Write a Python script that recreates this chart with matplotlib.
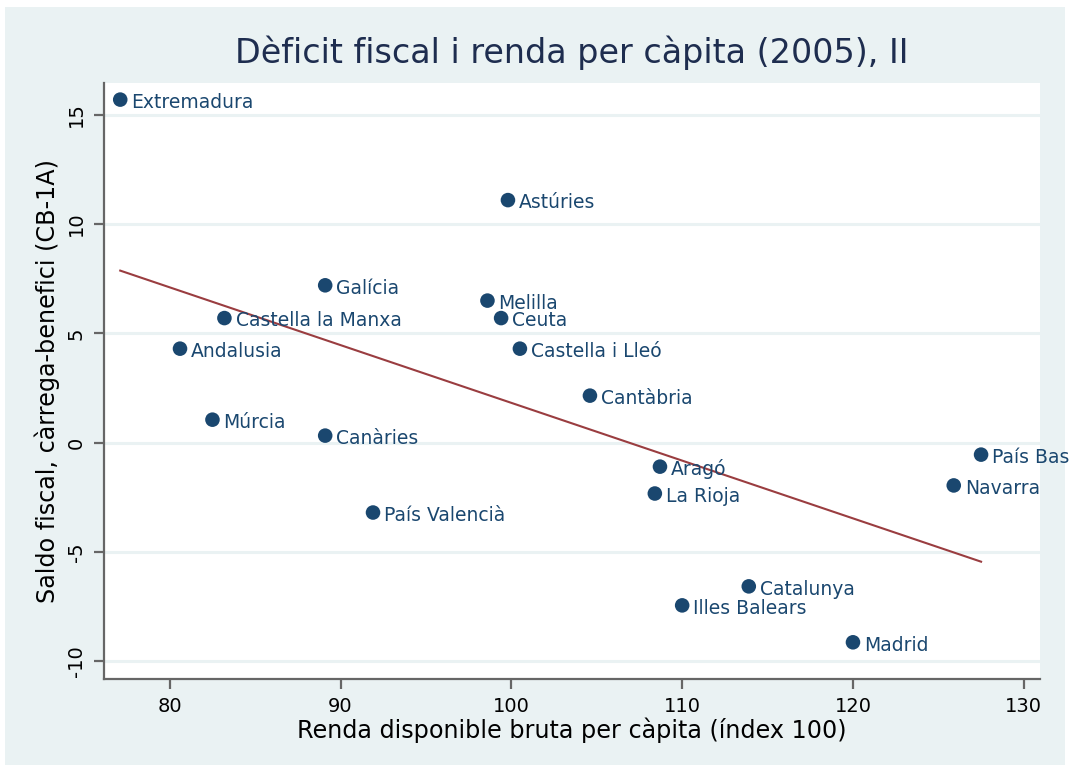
import numpy as np
import matplotlib
matplotlib.use("Agg")
import matplotlib.pyplot as plt
from matplotlib.patches import Rectangle

# Dades: renda per càpita (índex 100) i saldo fiscal (CB-1A)
regions = ["Extremadura", "Astúries", "Galícia", "Melilla", "Castella la Manxa",
           "Ceuta", "Andalusia", "Castella i Lleó", "Cantàbria", "Múrcia",
           "Canàries", "Aragó", "La Rioja", "País Valencià", "País Basc",
           "Navarra", "Catalunya", "Illes Balears", "Madrid"]
renda = [77.1, 99.8, 89.1, 98.6, 83.2, 99.4, 80.6, 100.5, 104.6, 82.5,
         89.1, 108.7, 108.4, 91.9, 127.5, 125.9, 113.9, 110.0, 120.0]
saldo = [15.7, 11.1, 7.2, 6.5, 5.7, 5.7, 4.3, 4.3, 2.15, 1.05,
         0.32, -1.1, -2.33, -3.2, -0.55, -1.96, -6.58, -7.45, -9.14]

bg = "#eaf2f3"
navy = "#1a476f"
maroon = "#9a3d40"

fig = plt.figure(figsize=(10.7, 7.73), dpi=100, facecolor="white")
fig.patches.append(Rectangle((5 / 1070, 8 / 773), 1060 / 1070, 758 / 773,
                             transform=fig.transFigure, facecolor=bg,
                             edgecolor="none", zorder=-10))

ax = fig.add_axes([104 / 1070, 94 / 773, 936 / 1070, 596 / 773])
ax.set_zorder(1)
ax.set_facecolor("white")

x = np.array(renda)
y = np.array(saldo)

# recta de regressió
b, a = np.polyfit(x, y, 1)
xs = np.array([x.min(), x.max()])
ax.plot(xs, a + b * xs, color=maroon, lw=1.5, zorder=2)

ax.scatter(x, y, s=110, color=navy, edgecolor="none", zorder=3, clip_on=False)
for nom, xi, yi in zip(regions, renda, saldo):
    t = ax.annotate(nom, (xi, yi), xytext=(8, -2), textcoords="offset points",
                    ha="left", va="center", fontsize=13.5, color=navy,
                    zorder=4, annotation_clip=False)
    t.set_clip_on(True)

ax.set_xlim(76.15, 130.95)
ax.set_ylim(-10.82, 16.46)
ax.set_xticks([80, 90, 100, 110, 120, 130])
ax.set_yticks([-10, -5, 0, 5, 10, 15])
ax.set_yticklabels(["-10", "-5", "0", "5", "10", "15"], rotation=90, va="center")
ax.yaxis.grid(True, color=bg, lw=2.2)
ax.set_axisbelow(True)

for s in ["top", "right"]:
    ax.spines[s].set_visible(False)
for s in ["left", "bottom"]:
    ax.spines[s].set_color("#666666")
    ax.spines[s].set_linewidth(1.6)
ax.tick_params(axis="both", direction="out", length=7, width=1.6,
               color="#666666", labelsize=14, labelcolor="black", pad=6)

ax.set_xlabel("Renda disponible bruta per càpita (índex 100)", fontsize=17.2, labelpad=1)
ax.set_ylabel("Saldo fiscal, càrrega-benefici (CB-1A)", fontsize=17.2, labelpad=5)
fig.text(0.534, 0.932, "Dèficit fiscal i renda per càpita (2005), II",
         ha="center", va="center", fontsize=24, color="#1e2d4f")

fig.savefig("out.png", dpi=100, facecolor="white")
